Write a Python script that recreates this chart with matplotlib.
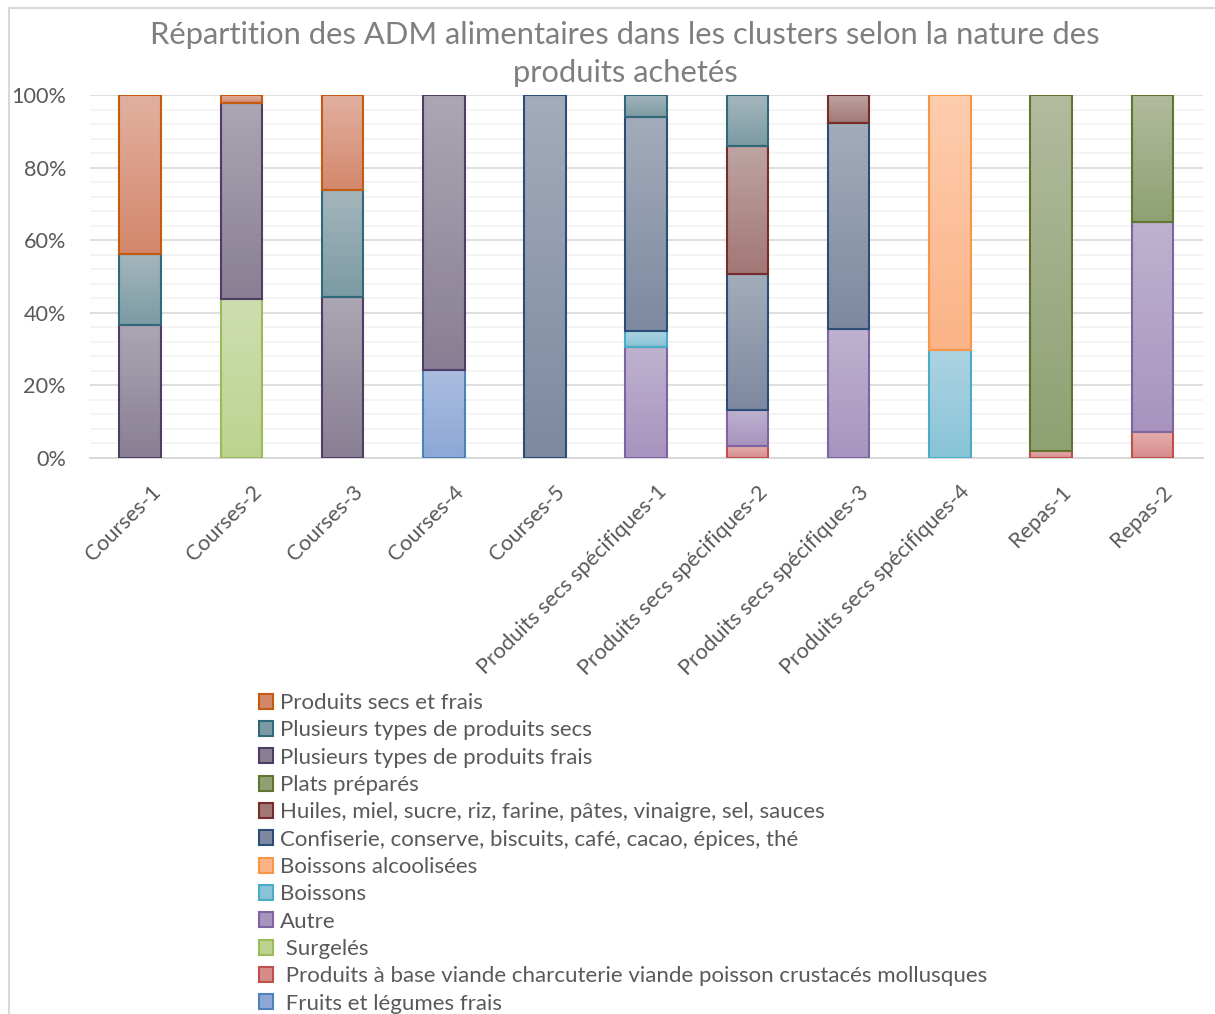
import matplotlib
matplotlib.use('Agg')
import matplotlib.pyplot as plt
import numpy as np
from matplotlib.patches import Patch
from matplotlib.lines import Line2D
from matplotlib.ticker import MultipleLocator, PercentFormatter
from matplotlib.colors import to_rgb
import matplotlib.transforms as mtransforms

plt.rcParams['font.family'] = ['Lato', 'DejaVu Sans']

categories = ['Courses-1', 'Courses-2', 'Courses-3', 'Courses-4', 'Courses-5',
              'Produits secs spécifiques-1', 'Produits secs spécifiques-2',
              'Produits secs spécifiques-3', 'Produits secs spécifiques-4',
              'Repas-1', 'Repas-2']

# series in stacking order (bottom -> top), values in %
fruits     = [0, 0, 0, 24.3, 0, 0, 0, 0, 0, 0, 0]
viande     = [0, 0, 0, 0, 0, 0, 3.2, 0, 0, 1.8, 7.1]
surgeles   = [0, 43.8, 0, 0, 0, 0, 0, 0, 0, 0, 0]
autre      = [0, 0, 0, 0, 0, 30.5, 10.0, 35.5, 0, 0, 57.9]
boissons   = [0, 0, 0, 0, 0, 4.4, 0, 0, 29.8, 0, 0]
alcool     = [0, 0, 0, 0, 0, 0, 0, 0, 70.2, 0, 0]
confiserie = [0, 0, 0, 0, 100, 59.0, 37.5, 56.8, 0, 0, 0]
huiles     = [0, 0, 0, 0, 0, 0, 35.3, 7.7, 0, 0, 0]
plats      = [0, 0, 0, 0, 0, 0, 0, 0, 0, 98.2, 35.0]
frais      = [36.7, 54.0, 44.3, 75.7, 0, 0, 0, 0, 0, 0, 0]
secs       = [19.4, 0, 29.6, 0, 0, 6.1, 14.0, 0, 0, 0, 0]
secs_frais = [43.9, 2.2, 26.1, 0, 0, 0, 0, 0, 0, 0, 0]

series_labels = [' Fruits et légumes frais',
                 ' Produits à base viande charcuterie viande poisson crustacés mollusques',
                 ' Surgelés', 'Autre', 'Boissons', 'Boissons alcoolisées',
                 'Confiserie, conserve, biscuits, café, cacao, épices, thé',
                 'Huiles, miel, sucre, riz, farine, pâtes, vinaigre, sel, sauces',
                 'Plats préparés', 'Plusieurs types de produits frais',
                 'Plusieurs types de produits secs', 'Produits secs et frais']
series_values = [fruits, viande, surgeles, autre, boissons, alcool, confiserie,
                 huiles, plats, frais, secs, secs_frais]

# (top colour, bottom colour, edge colour)
styles = [('#AABDDF', '#8DA8D6', '#4F81BD'),
          ('#E4AEAD', '#D68C8B', '#C0504D'),
          ('#CEDEB0', '#BCD38F', '#9BBB59'),
          ('#BEB2CF', '#A794BF', '#8064A2'),
          ('#ADD4E2', '#88C3D7', '#4BACC6'),
          ('#FECDAE', '#FBB387', '#F79646'),
          ('#A3ACBA', '#7E89A1', '#2C4D75'),
          ('#BDA4A3', '#A27875', '#772C2A'),
          ('#B2BB9E', '#8FA173', '#5F7530'),
          ('#AAA6B2', '#897F94', '#4F3D66'),
          ('#A4B6BC', '#7C9BA4', '#31697A'),
          ('#E2B0A0', '#D3886C', '#C55A11')]

fig = plt.figure(figsize=(12.15, 10.14), dpi=100)
ax = fig.add_axes([89.5 / 1215, 1 - 458 / 1014, (1203 - 89.5) / 1215, (458 - 95) / 1014])

x = np.arange(len(categories))
width = 0.41
bottom = np.zeros(len(categories))
N = 64
for vals, (ctop, cbot, cedge) in zip(series_values, styles):
    v = np.array(vals, dtype=float) / 100.0
    bars = ax.bar(x, v, width, bottom=bottom, color=cbot, edgecolor='none', zorder=2)
    outl = ax.bar(x, v, width, bottom=bottom, fill=False, edgecolor=cedge, linewidth=1.5, zorder=4)
    t = np.linspace(0, 1, N)[:, None]
    grad = (1 - t) * np.array(to_rgb(cbot)) + t * np.array(to_rgb(ctop))
    grad = grad[:, None, :]
    for rect, o in zip(bars, outl):
        h = rect.get_height()
        if h <= 0:
            rect.set_visible(False)
            o.set_visible(False)
            continue
        x0 = rect.get_x(); y0 = rect.get_y()
        im = ax.imshow(grad, extent=[x0, x0 + rect.get_width(), y0, y0 + h],
                       origin='lower', aspect='auto', zorder=3, interpolation='bilinear')
        im.set_clip_path(rect)
    bottom += v

ax.set_xlim(-0.5, len(categories) - 0.5)
ax.set_ylim(0, 1)
ax.yaxis.set_major_locator(MultipleLocator(0.2))
ax.yaxis.set_minor_locator(MultipleLocator(0.04))
ax.yaxis.set_major_formatter(PercentFormatter(1.0, decimals=0))
ax.grid(axis='y', which='major', color='#D9D9D9', linewidth=1.2, zorder=0)
ax.grid(axis='y', which='minor', color='#F2F2F2', linewidth=1.2, zorder=0)
ax.set_axisbelow(True)
for s in ['left', 'right', 'top']:
    ax.spines[s].set_visible(False)
ax.spines['bottom'].set_color('#D9D9D9')
ax.spines['bottom'].set_linewidth(1.5)
ax.tick_params(axis='both', which='both', length=0)
ax.tick_params(axis='y', labelsize=15.6, labelcolor='#595959', pad=17)

ax.set_xticks(x)
offset = mtransforms.ScaledTranslation(17 / 100, -26 / 100, fig.dpi_scale_trans)
ax.set_xticklabels(categories, rotation=45, ha='right', va='center',
                   rotation_mode='anchor', fontsize=15.6, color='#595959')
for lab in ax.get_xticklabels():
    lab.set_transform(lab.get_transform() + offset)

fig.text(625 / 1215, 1 - 54 / 1014,
         'Répartition des ADM alimentaires dans les clusters selon la nature des\nproduits achetés',
         ha='center', va='center', fontsize=22.2, color='#7F7F7F', linespacing=1.4)

handles = [Patch(facecolor=s[1], edgecolor=s[2], linewidth=1.5) for s in styles][::-1]
labels = series_labels[::-1]
leg = fig.legend(handles, labels, loc='upper left',
                 bbox_to_anchor=(259 / 1215, 1 - 693 / 1014), frameon=False,
                 fontsize=16, handlelength=0.65, handleheight=0.65,
                 handletextpad=0.3, labelspacing=0.33, borderpad=0, borderaxespad=0)
for t in leg.get_texts():
    t.set_color('#595959')

# chart area border (top and left visible)
fig.add_artist(Line2D([8.5 / 1215, 8.5 / 1215], [0, 1 - 8 / 1014], color='#D9D9D9', lw=1.5))
fig.add_artist(Line2D([8.5 / 1215, 1], [1 - 8 / 1014, 1 - 8 / 1014], color='#D9D9D9', lw=1.5))

fig.savefig('out.png', dpi=100)
